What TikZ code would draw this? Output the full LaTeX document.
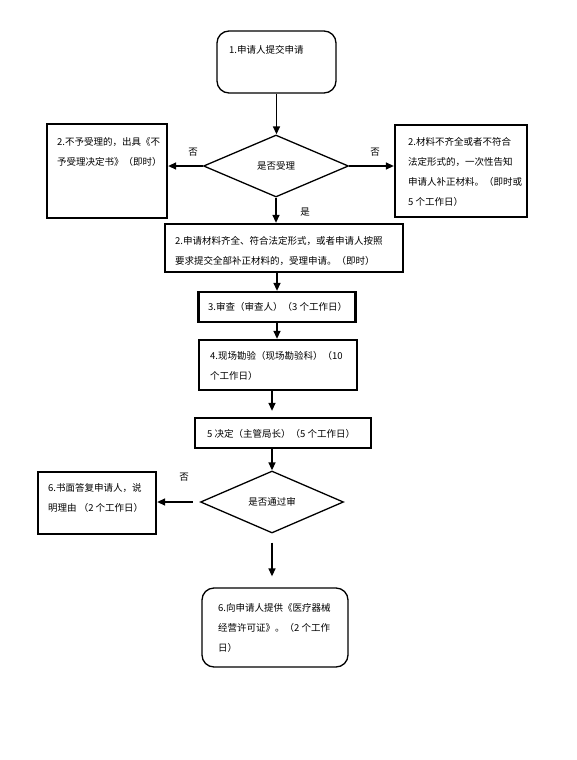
\documentclass[tikz,border=0pt]{standalone}
\usepackage{fontspec}
\newfontfamily\cjk{Noto Sans CJK SC}
\usetikzlibrary{arrows.meta,shapes.geometric}
\begin{document}
\begin{tikzpicture}[x=1pt,y=-1pt,
  box/.style={draw, line width=2.3pt, inner sep=0},
  rbox/.style={draw, line width=1.3pt, rounded corners=12pt, inner sep=0},
  dia/.style={draw, diamond, line width=1.3pt, inner sep=0, font=\cjk\fontsize{9.5}{12}\selectfont},
  txt/.style={font=\cjk\fontsize{9.5}{20}\selectfont, align=left, inner sep=0, anchor=north west},
  lbl/.style={font=\cjk\fontsize{9.5}{12}\selectfont, inner sep=0},
  arr/.style={line width=1.4pt, -{Triangle[length=8pt,width=7pt]}}]
\useasboundingbox[fill=white] (0,0) rectangle (576,760);

% shapes
\node[rbox, minimum width=119pt, minimum height=62pt] (b1) at (276.5,62) {};
\node[dia, minimum width=145pt, minimum height=62pt] (d1) at (276,166) {是否受理};
\node[box, minimum width=120pt, minimum height=94pt] (L2) at (107,171) {};
\node[box, minimum width=132pt, minimum height=92pt] (R2) at (461,171) {};
\node[box, minimum width=238pt, minimum height=48pt] (W2) at (284,248) {};
\node[box, minimum width=157pt, minimum height=30pt] (B3) at (277,307) {};
\node[box, minimum width=158pt, minimum height=50pt] (B4) at (278,365) {};
\node[box, minimum width=176pt, minimum height=30pt] (B5) at (283,433) {};
\node[dia, minimum width=143pt, minimum height=62pt] (d2) at (272,502) {是否通过审};
\node[box, minimum width=118pt, minimum height=62pt] (B6) at (97,503) {};
\node[rbox, minimum width=146pt, minimum height=79pt] (B7) at (275,627.5) {};

% texts
\node[txt] (t1) at (229,45) {1.申请人提交申请};
\node[txt] (tL) at (57,137) {2.不予受理的，出具《不\\予受理决定书》（即时）};
\node[txt] (tR) at (408,137) {2.材料不齐全或者不符合\\法定形式的，一次性告知\\申请人补正材料。（即时或\\5 个工作日）};
\node[txt] (tW) at (175,236) {2.申请材料齐全、符合法定形式，或者申请人按照\\要求提交全部补正材料的，受理申请。（即时）};
\node[txt] (t3) at (208,302) {3.审查（审查人）（3 个工作日）};
\node[txt] (t4) at (210,351) {4.现场勘验（现场勘验科）（10\\个工作日）};
\node[txt] (t5) at (207,429) {5 决定（主管局长）（5 个工作日）};
\node[txt] (t6) at (48,483) {6.书面答复申请人，说\\明理由 （2 个工作日）};
\node[txt] (t7) at (218,603) {6.向申请人提供《医疗器械\\经营许可证》。（2 个工作\\日）};

% labels
\node[lbl] (n1) at (193,152) {否};
\node[lbl] (n2) at (375,152) {否};
\node[lbl] (y1) at (305,212) {是};
\node[lbl] (n3) at (184,477) {否};

% connectors
\draw[arr] (b1.south) -- (b1.south |- d1.north);
\draw[arr] (d1.west) -- (d1.west -| L2.east);
\draw[arr] (d1.east) -- (d1.east -| R2.west);
\draw[arr] (d1.south) -- (d1.south |- W2.north);
\draw[arr] (B3.north |- W2.south) -- (B3.north);
\draw[arr] (B3.south) -- (B3.south |- B4.north);
\draw[arr, shorten >=6pt] (B4.south -| d2.north) -- (d2.north |- B5.north);
\draw[arr] (d2.north |- B5.south) -- (d2.north);
\draw[arr, shorten <=7pt] (d2.west) -- (d2.west -| B6.east);
\draw[arr, shorten <=9pt, shorten >=11pt] (d2.south) -- (d2.south |- B7.north);
\end{tikzpicture}
\end{document}
